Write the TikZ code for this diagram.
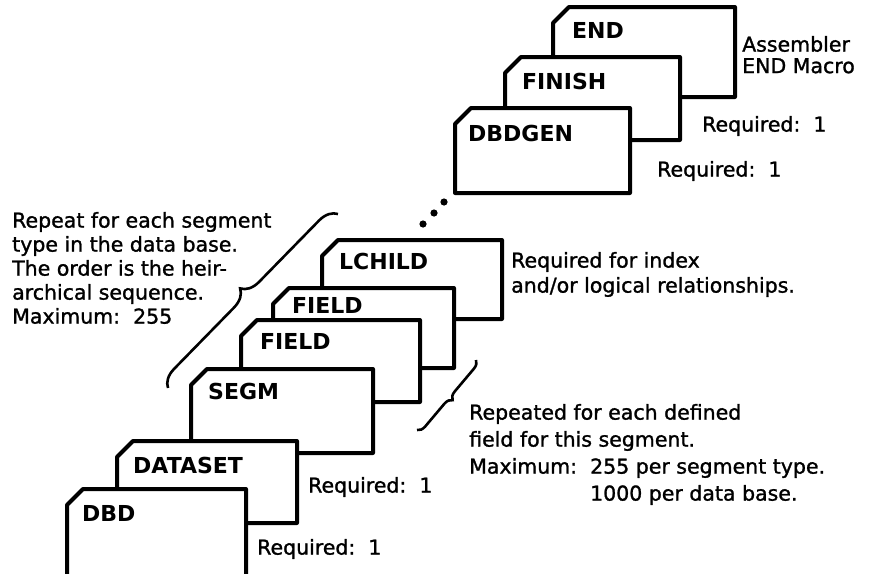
\documentclass[tikz,border=0pt]{standalone}
\usepackage{fontspec}
\setmainfont{DejaVu Sans}
\newfontfamily\notefont[FakeBold=1.3]{DejaVu Sans}
\newfontfamily\cardfont{DejaVu Sans Bold}
\usetikzlibrary{decorations.pathreplacing}

\begin{document}
\begin{tikzpicture}[
        x=1pt, y=-1pt,
        card/.style={draw, line width=4pt, fill=white, line join=round},
        cardlabel/.style={anchor=base west, inner sep=0pt, font=\cardfont\fontsize{22}{22}\selectfont},
        note/.style={anchor=base west, inner sep=0pt, align=left, font=\notefont\fontsize{20.5}{24}\selectfont},
        bracket/.style={draw, line width=2.6pt, decorate, decoration={brace, amplitude=#1}}
    ]
    \useasboundingbox (0,0) rectangle (875,573);
    \clip (0,0) rectangle (875,573);

    % Cards - back to front (left/top/right/bottom/label offset x/y/name/label)
    \foreach \lx/\ty/\rx/\by/\ox/\oy/\name/\lbl in {
            553/7/735/97/19/31/endc/END,
            505/57/680/140/17/32/finish/FINISH,
            455/108/630/193/13/33/dbdgen/DBDGEN,
            322/240/502/319/17/29/lchild/LCHILD,
            273/288/454/368/19/25/fieldb/FIELD,
            241/320/420/402/19/29/fielda/FIELD,
            191/369/373/453/17/30/segm/SEGM,
            117/441/297/523/16/32/dataset/DATASET,
            67/489/246/590/15/32/dbd/DBD}{
        \draw[card] (\lx,\by) -- (\lx,\ty+16) -- (\lx+16,\ty) -- (\rx,\ty) -- (\rx,\by) -- cycle;
        \node[cardlabel] (\name) at (\lx+\ox,\ty+\oy) {\lbl};
    }

    % Dots between the two stacks
    \foreach \dx/\dy in {423/224, 434/213, 444/202}
        \fill (\dx,\dy) circle (3.6);

    % Braces
    \draw[bracket=18] (168,388) -- (338,214);
    \draw[bracket=8] (476,360) -- (417,430);

    % Notes (anchored at the baseline of their last line)
    \node[note, font=\notefont\fontsize{20.5}{21.5}\selectfont] (asm) at (742,73.1) {Assembler\\END Macro};
    \node[note] (reqfinish) at (702,131.6) {Required:~~1};
    \node[note] (reqdbdgen) at (657,176.6) {Required:~~1};
    \node[note] (segnote) at (12,323.6) {Repeat for each segment\\type in the data base.\\The order is the heir-\\archical sequence.\\Maximum:~~255};
    \node[note, font=\notefont\fontsize{20.5}{25}\selectfont] (lchildnote) at (511,292.6) {Required for index\\and/or logical relationships.};
    \node[note, font=\notefont\fontsize{20.5}{27}\selectfont] (fieldnote) at (469,500.6) {Repeated for each defined\\field for this segment.\\Maximum:~~255 per segment type.\\\phantom{Maximum:~~}1000 per data base.};
    \node[note] (reqdataset) at (308,492.6) {Required:~~1};
    \node[note] (reqdbd) at (257,554.6) {Required:~~1};

\end{tikzpicture}
\end{document}
